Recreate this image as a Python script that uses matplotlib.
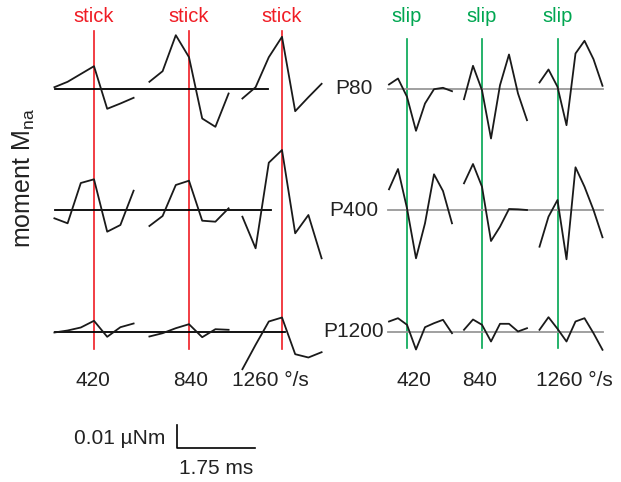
import matplotlib
matplotlib.use("Agg")
import matplotlib.pyplot as plt

plt.rcParams["font.family"] = ["Liberation Sans", "DejaVu Sans"]

RED = "#f01c24"
GREEN = "#00a651"
INK = "#222222"

speeds = ["420", "840", "1260 °/s"]
rows = ["P80", "P400", "P1200"]

# moment traces (arbitrary amplitude units, 1 unit ~ 0.00044 uNm), event at index 3 / 2
stick_p80 = [[1.3, 6.7, 14.5, 22.3, -20.3, -15.0, -9.3],
             [6.7, 17.3, 53.3, 31.3, -30.0, -38.3, -5.0],
             [-10.0, 1.3, 31.3, 51.7, -22.7, -8.7, 4.7]]
stick_p400 = [[-8.3, -13.3, 27.0, 30.7, -21.7, -15.0, 19.3],
              [-16.0, -6.0, 25.0, 29.3, -10.7, -11.7, 1.7],
              [-6.7, -38.3, 47.3, 60.0, -23.3, -5.0, -48.3]]
stick_p1200 = [[-1.0, 1.0, 4.0, 10.7, -5.3, 4.3, 8.0],
               [-5.0, -1.7, 3.3, 7.3, -5.7, 2.3, 1.7],
               [-37.7, -13.3, 10.0, 14.0, -22.7, -26.0, -20.7]]

slip_p80 = [[4.0, 10.0, -8.3, -42.3, -15.0, -0.7, 0.7, -2.7],
            [-10.7, 22.7, -1.7, -50.0, 3.3, 34.0, -5.0, -31.7],
            [6.0, 19.0, 1.7, -36.7, 35.0, 47.7, 29.3, 2.7]]
slip_p400 = [[20.7, 41.0, 1.7, -48.3, -13.3, 35.7, 19.0, -13.3],
             [26.7, 46.0, 23.3, -31.0, -16.7, 1.0, 0.7, 0.0],
             [-36.7, -6.7, 10.0, -49.3, 42.7, 23.3, 0.0, -27.3]]
slip_p1200 = [[10.0, 13.3, 6.7, -18.0, 4.3, 8.3, 11.7, -1.7],
              [1.7, 12.0, 6.7, -10.0, 7.7, 7.7, 0.0, 3.3],
              [1.7, 14.3, 2.7, -10.0, 10.0, 13.3, -1.7, -18.3]]

# layout (pixel canvas)
baselines = [88.5, 210, 331.5]
stick_events = [94, 189, 282]
slip_events = [407, 482, 557.5]
stick_dx, slip_dx = 13.2, 9.0
stick_base_end = [268, 271, 285]

fig = plt.figure(figsize=(6.21, 4.82), dpi=100)
ax = fig.add_axes([0, 0, 1, 1])
ax.set_xlim(0, 621)
ax.set_ylim(482, 0)
ax.axis("off")

# event lines
for x in stick_events:
    ax.plot([x, x], [31, 349], color=RED, lw=1.2, zorder=1)
    ax.text(x, 16, "stick", color=RED, fontsize=14.5, ha="center", va="center")
for x in slip_events:
    ax.plot([x, x], [39, 348], color=GREEN, lw=1.2, zorder=1)
    ax.text(x, 16, "slip", color=GREEN, fontsize=14.5, ha="center", va="center")

# baselines
for yb, xe in zip(baselines, stick_base_end):
    ax.plot([55, xe], [yb, yb], color="black", lw=1.3, zorder=2)
    ax.plot([388, 603], [yb, yb], color="#999999", lw=1.3, zorder=2)

stick = [stick_p80, stick_p400, stick_p1200]
slip = [slip_p80, slip_p400, slip_p1200]
for r, yb in enumerate(baselines):
    for c in range(3):
        tr = stick[r][c]
        xs = [stick_events[c] + (i - 3) * stick_dx for i in range(len(tr))]
        ax.plot(xs, [yb - v for v in tr], color="#1a1a1a", lw=1.3, zorder=3)
        tr = slip[r][c]
        xs = [slip_events[c] + (i - 2) * slip_dx for i in range(len(tr))]
        ax.plot(xs, [yb - v for v in tr], color="#1a1a1a", lw=1.3, zorder=3)
    ax.text(353.5, yb, rows[r], fontsize=15, color=INK, ha="center", va="center")

# speed labels
for x, s in zip([93, 190.5, 232], speeds):
    ax.text(x, 381, s, fontsize=15, color=INK,
            ha="left" if "/" in s else "center", va="center")
for x, s in zip([414, 480, 536], speeds):
    ax.text(x, 381, s, fontsize=15, color=INK,
            ha="left" if "/" in s else "center", va="center")

ax.text(24, 178, r"moment M$_{\mathregular{na}}$", fontsize=18, color=INK,
        rotation=90, ha="center", va="center")

# scale bar
ax.plot([177, 177, 255], [425, 447.5, 447.5], color="black", lw=1.2)
ax.text(165, 439, "0.01 µNm", fontsize=15, color=INK, ha="right", va="center")
ax.text(179, 468, "1.75 ms", fontsize=15, color=INK, ha="left", va="center")

fig.savefig("out.png", dpi=100)
